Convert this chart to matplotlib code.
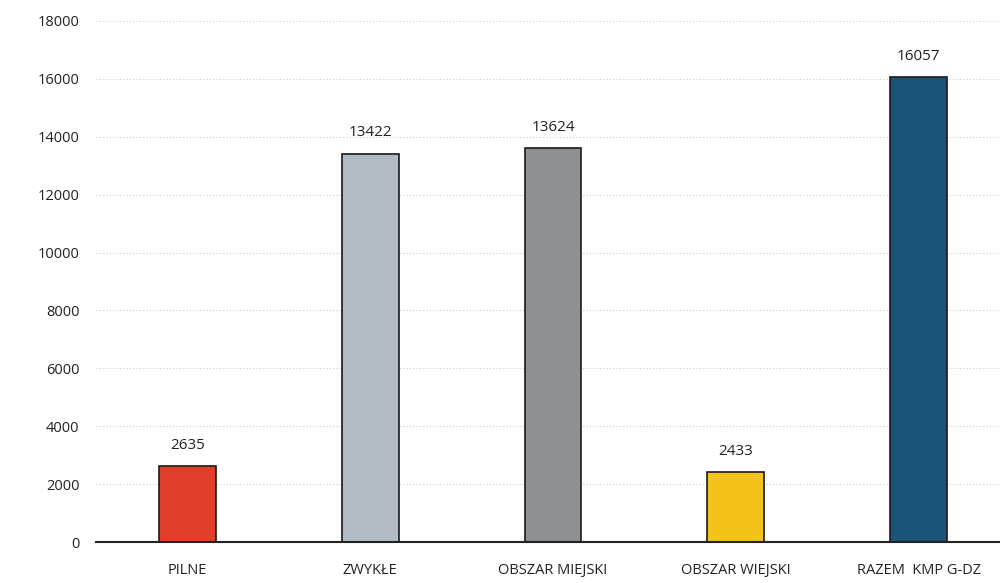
import matplotlib
matplotlib.use("Agg")
import matplotlib.pyplot as plt

categories = ["PILNE", "ZWYKŁE", "OBSZAR MIEJSKI", "OBSZAR WIEJSKI", "RAZEM  KMP G-DZ"]
values = [2635, 13422, 13624, 2433, 16057]
colors = ["#e0402a", "#b2bbc4", "#8d9194", "#f3c31a", "#1b5478"]
yticks = [0, 2000, 4000, 6000, 8000, 10000, 12000, 14000, 16000, 18000]

plt.rcParams['font.family'] = ['Open Sans', 'DejaVu Sans']

fig = plt.figure(figsize=(10, 5.83), dpi=100)
ax = fig.add_axes([0.096, 0.0703, 0.914, 0.8937])
x = range(len(categories))
bars = ax.bar(x, values, width=0.31, color=colors, edgecolor="#1a1a1a", linewidth=1.2, zorder=3)
for xi, v in zip(x, values):
    ax.text(xi, v + 450, str(v), ha="center", va="bottom", fontsize=11, color="#222222")

ax.set_ylim(0, 18000)
ax.set_xlim(-0.5, 4.5)
ax.set_yticks(yticks)
ax.set_yticklabels([str(t) for t in yticks], fontsize=10.5, color="#222222")
ax.set_xticks(list(x))
ax.set_xticklabels(categories, fontsize=10.5, color="#222222")
ax.tick_params(axis="both", length=0, pad=12)
ax.tick_params(axis="x", pad=15)
ax.grid(axis="y", linestyle=(0, (1, 2)), color="#cccccc", linewidth=0.8, zorder=0)
for s in ["top", "right", "left"]:
    ax.spines[s].set_visible(False)
ax.spines["bottom"].set_color("#222222")
ax.spines["bottom"].set_linewidth(1.5)
ax.spines["bottom"].set_zorder(4)

fig.savefig("out.png", dpi=100)
